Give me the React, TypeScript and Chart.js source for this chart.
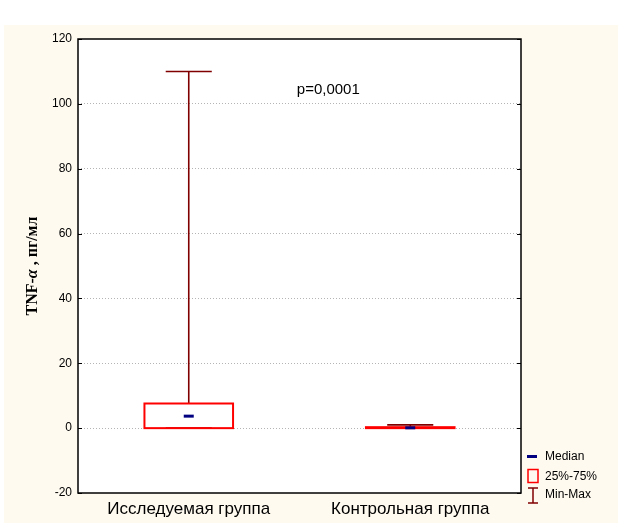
import React, { useEffect, useRef } from "react";
import { Chart, registerables } from "chart.js";

Chart.register(...registerables);

const categories = ["Исследуемая группа", "Контрольная группа"];
const minValues = [0, 0];
const q1Values = [0, 0];
const medianValues = [3.7, 0.1];
const q3Values = [7.6, 0.3];
const maxValues = [110, 1.0];
const yTicks = [-20, 0, 20, 40, 60, 80, 100, 120];
const pText = "p=0,0001";
const pPos = { x: 0.63, y: 104.3 };
const legendLabels = ["Median", "25%-75%", "Min-Max"];
const yTitleParts = [
  { text: "TNF-", italic: false },
  { text: "α", italic: true },
  { text: " , пг/мл", italic: false },
];

const SANS = 'Arial, "Liberation Sans", sans-serif';
const SERIF = '"Liberation Serif", "Times New Roman", serif';
const BOX_HALF = 0.2;
const CAP_HALF = 0.104;

const boxPlugin = {
  id: "boxPlot",
  beforeDraw(chart: any) {
    const { ctx, width, height, chartArea: a } = chart;
    ctx.save();
    ctx.fillStyle = "#ffffff";
    ctx.fillRect(0, 0, width, height);
    ctx.fillStyle = "#fffaf0";
    ctx.fillRect(4, 25, 614, 498);
    ctx.fillStyle = "#ffffff";
    ctx.fillRect(a.left, a.top, a.right - a.left, a.bottom - a.top);
    ctx.restore();
  },
  beforeDatasetsDraw(chart: any) {
    const { ctx } = chart;
    const xs = chart.scales.x;
    const ys = chart.scales.y;
    ctx.save();
    categories.forEach((_, i) => {
      const cx = xs.getPixelForValue(i);
      const capL = xs.getPixelForValue(i - CAP_HALF);
      const capR = xs.getPixelForValue(i + CAP_HALF);
      const boxL = xs.getPixelForValue(i - BOX_HALF);
      const boxR = xs.getPixelForValue(i + BOX_HALF);
      const yMin = ys.getPixelForValue(minValues[i]);
      const yMax = ys.getPixelForValue(maxValues[i]);
      const yQ1 = ys.getPixelForValue(q1Values[i]);
      const yQ3 = ys.getPixelForValue(q3Values[i]);
      ctx.strokeStyle = "#800000";
      ctx.lineWidth = 1.6;
      ctx.beginPath();
      ctx.moveTo(cx, yQ3);
      ctx.lineTo(cx, yMax);
      ctx.moveTo(capL, yMax);
      ctx.lineTo(capR, yMax);
      ctx.moveTo(cx, yQ1);
      ctx.lineTo(cx, yMin);
      ctx.moveTo(capL, yMin);
      ctx.lineTo(capR, yMin);
      ctx.stroke();
      ctx.strokeStyle = "#ff0000";
      ctx.lineWidth = 2;
      ctx.strokeRect(boxL, yQ3, boxR - boxL, yQ1 - yQ3);
    });
    ctx.restore();
  },
  afterDatasetsDraw(chart: any) {
    const { ctx, chartArea: a } = chart;
    const xs = chart.scales.x;
    const ys = chart.scales.y;
    ctx.save();
    ctx.strokeStyle = "#000000";
    ctx.lineWidth = 1.5;
    ctx.strokeRect(a.left, a.top, a.right - a.left, a.bottom - a.top);
    ctx.lineWidth = 1;
    ctx.beginPath();
    yTicks.forEach((v) => {
      const py = Math.round(ys.getPixelForValue(v)) + 0.5;
      ctx.moveTo(a.left, py);
      ctx.lineTo(a.left + 4, py);
      ctx.moveTo(a.right - 4, py);
      ctx.lineTo(a.right, py);
    });
    ctx.stroke();
    ctx.fillStyle = "#000000";
    ctx.font = `15px ${SANS}`;
    ctx.textAlign = "center";
    ctx.textBaseline = "middle";
    ctx.fillText(pText, xs.getPixelForValue(pPos.x), ys.getPixelForValue(pPos.y));
    ctx.restore();
  },
  afterDraw(chart: any) {
    const { ctx, chartArea: a } = chart;
    ctx.save();
    const size = 16;
    const fonts = yTitleParts.map(
      (p) => `${p.italic ? "italic " : ""}bold ${size}px ${SERIF}`
    );
    const widths = yTitleParts.map((p, i) => {
      ctx.font = fonts[i];
      return ctx.measureText(p.text).width;
    });
    const total = widths.reduce((s, w) => s + w, 0);
    ctx.translate(32.5, (a.top + a.bottom) / 2);
    ctx.rotate(-Math.PI / 2);
    ctx.fillStyle = "#000000";
    ctx.textBaseline = "middle";
    ctx.textAlign = "left";
    let xo = -total / 2;
    yTitleParts.forEach((p, i) => {
      ctx.font = fonts[i];
      ctx.fillText(p.text, xo, 0);
      xo += widths[i];
    });
    ctx.restore();

    ctx.save();
    ctx.fillStyle = "#000080";
    ctx.fillRect(527, 455, 10, 3);
    ctx.strokeStyle = "#ff0000";
    ctx.lineWidth = 1.5;
    ctx.strokeRect(528, 469.5, 10, 13);
    ctx.strokeStyle = "#800000";
    ctx.lineWidth = 1.5;
    ctx.beginPath();
    ctx.moveTo(528, 488);
    ctx.lineTo(538, 488);
    ctx.moveTo(533, 488);
    ctx.lineTo(533, 503);
    ctx.moveTo(528, 503);
    ctx.lineTo(538, 503);
    ctx.stroke();
    ctx.fillStyle = "#000000";
    ctx.font = `12px ${SANS}`;
    ctx.textAlign = "left";
    ctx.textBaseline = "middle";
    ctx.fillText(legendLabels[0], 545, 457);
    ctx.fillText(legendLabels[1], 545, 477);
    ctx.fillText(legendLabels[2], 545, 495);
    ctx.restore();
  },
};

export default function App() {
  const ref = useRef<HTMLCanvasElement>(null);
  useEffect(() => {
    if (!ref.current) return;
    const chart = new Chart(ref.current, {
      type: "scatter",
      data: {
        datasets: [
          {
            label: "Median",
            data: medianValues.map((m, i) => ({ x: i, y: m })),
            pointStyle: "line",
            pointRadius: 5,
            pointBorderWidth: 3,
            borderColor: "#000080",
            backgroundColor: "#000080",
          },
        ],
      },
      options: {
        animation: false,
        responsive: false,
        devicePixelRatio: 1,
        layout: { padding: { left: 0, top: 39, right: 98, bottom: 0 } },
        plugins: { legend: { display: false }, tooltip: { enabled: false } },
        scales: {
          x: {
            type: "linear",
            min: -0.5,
            max: 1.5,
            afterFit: (s: any) => {
              s.height = 30;
            },
            afterBuildTicks: (s: any) => {
              s.ticks = categories.map((_, i) => ({ value: i }));
            },
            grid: { display: false, drawTicks: false },
            border: { display: false },
            ticks: {
              padding: 6,
              color: "#000000",
              font: { family: SANS, size: 17 },
              maxRotation: 0,
              autoSkip: false,
              callback: (v: any) => categories[v] ?? "",
            },
          },
          y: {
            type: "linear",
            min: -20,
            max: 120,
            afterFit: (s: any) => {
              s.width = 78;
            },
            afterBuildTicks: (s: any) => {
              s.ticks = yTicks.map((v) => ({ value: v }));
            },
            grid: {
              drawTicks: false,
              color: (c: any) =>
                c.tick && (c.tick.value === -20 || c.tick.value === 120)
                  ? "rgba(0,0,0,0)"
                  : "#b4b4b4",
              lineWidth: 1,
            },
            border: { display: false, dash: [1, 2] },
            ticks: {
              padding: 6,
              color: "#000000",
              font: { family: SANS, size: 12 },
            },
          },
        },
      },
      plugins: [boxPlugin],
    } as any);
    return () => chart.destroy();
  }, []);
  return (
    <div style={{ position: "absolute", left: 0, top: 0, width: 619, height: 523 }}>
      <canvas ref={ref} width={619} height={523} style={{ display: "block" }} />
    </div>
  );
}
